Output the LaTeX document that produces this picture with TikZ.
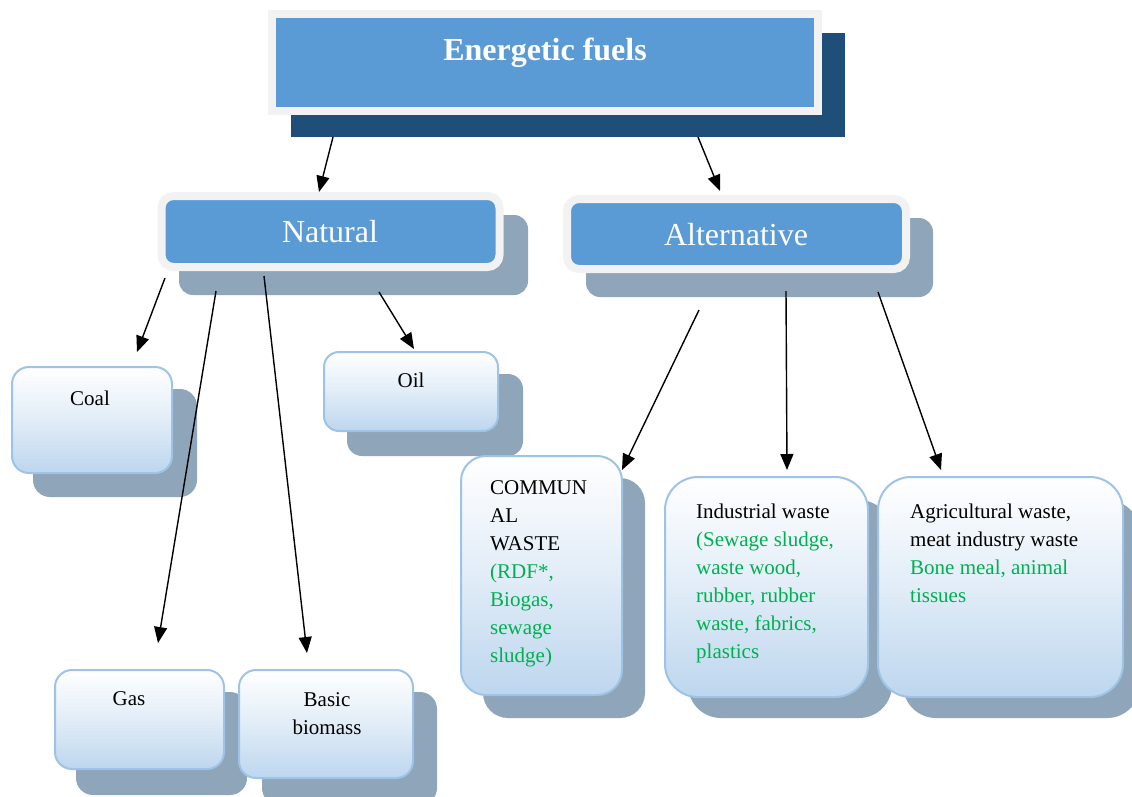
\documentclass[tikz,border=0pt]{standalone}
\usepackage{fontspec}
\setmainfont{Liberation Serif}
\usetikzlibrary{arrows.meta}
\definecolor{hdrblue}{HTML}{5B9BD5}
\definecolor{hdrrim}{HTML}{F2F2F2}
\definecolor{darkshadow}{HTML}{1F4E79}
\definecolor{greyshadow}{HTML}{8EA5BA}
\definecolor{lightrim}{HTML}{9DC3E6}
\definecolor{boxbot}{HTML}{BDD6EE}
\definecolor{greentext}{HTML}{00B050}
\tikzset{
  hdrbox/.style={draw=hdrrim, fill=hdrblue, line width=8pt, inner sep=0pt},
  leafbox/.style={draw=lightrim, line width=2pt, rounded corners=#1, top color=white, bottom color=boxbot, middle color=white!55!boxbot, inner sep=0pt},
  shadowfill/.style={fill=greyshadow, rounded corners=#1},
  hdrtext/.style={text=white, font=\fontsize{32}{36}\selectfont, anchor=base, inner sep=0pt},
  smalltext/.style={font=\fontsize{21}{28}\selectfont, anchor=base, inner sep=0pt},
  blocktext/.style={font=\fontsize{21}{28}\selectfont, anchor=north west, inner sep=0pt, align=left},
  conn/.style={line width=1.4pt, -{Triangle[length=16pt,width=13pt]}}
}
\begin{document}
\begin{tikzpicture}[x=1pt,y=-1pt]
\useasboundingbox (0,0) rectangle (1132,796);
\fill[white] (0,0) rectangle (1132,796);

% top header
\fill[darkshadow] (291,33) rectangle (845,137);
\node[hdrbox, minimum width=546pt, minimum height=97pt] (top) at (545,62.5) {};
\node[hdrtext, font=\fontsize{32}{36}\selectfont\bfseries] (toptext) at (545,60) {Energetic fuels};

% Natural
\fill[shadowfill=14pt] (179,215) rectangle (528,295);
\node[hdrbox, rounded corners=12pt, minimum width=338pt, minimum height=71pt] (natural) at (330.5,231.5) {};
\node[hdrtext] (naturaltext) at (330,242) {Natural};

% Alternative
\fill[shadowfill=14pt] (586,218) rectangle (933,297);
\node[hdrbox, rounded corners=12pt, minimum width=339pt, minimum height=70pt] (alternative) at (736.5,234) {};
\node[hdrtext] (alttext) at (736,245) {Alternative};

% Coal
\fill[shadowfill=17pt] (33,389) rectangle (197,497);
\node[leafbox=17pt, minimum width=160pt, minimum height=106pt] (coal) at (92,420) {};
\node[smalltext] (coaltext) at (90,405) {Coal};

% Oil
\fill[shadowfill=15pt] (347,374) rectangle (523,456);
\node[leafbox=15pt, minimum width=174pt, minimum height=79pt] (oil) at (411,391.5) {};
\node[smalltext] (oiltext) at (411,387) {Oil};

% Gas
\fill[shadowfill=17pt] (76,692) rectangle (247,795);
\node[leafbox=17pt, minimum width=169pt, minimum height=99pt] (gas) at (139.5,719.5) {};
\node[smalltext] (gastext) at (129,705) {Gas};

% Basic biomass
\fill[shadowfill=17pt] (262,692) rectangle (437,805);
\node[leafbox=17pt, minimum width=174pt, minimum height=108pt] (biomass) at (326,724) {};
\node[smalltext] (biomasstext1) at (327,706) {Basic};
\node[smalltext] (biomasstext2) at (327,734) {biomass};

% Communal waste
\fill[shadowfill=25pt] (483,478) rectangle (645,718);
\node[leafbox=25pt, minimum width=161pt, minimum height=239pt] (communal) at (541.5,575.5) {};
\node[blocktext] (communaltext) at (490,480.5) {COMMUN\\AL\\WASTE\\\textcolor{greentext}{(RDF*,}\\\textcolor{greentext}{Biogas,}\\\textcolor{greentext}{sewage}\\\textcolor{greentext}{sludge)}};

% Industrial waste
\fill[shadowfill=33pt] (688,500) rectangle (892,718);
\node[leafbox=33pt, minimum width=203pt, minimum height=220pt] (industrial) at (766.5,587) {};
\node[blocktext] (industrialtext) at (696,503.5) {Industrial waste\\\textcolor{greentext}{(Sewage sludge,}\\\textcolor{greentext}{waste wood,}\\\textcolor{greentext}{rubber, rubber}\\\textcolor{greentext}{waste, fabrics,}\\\textcolor{greentext}{plastics}};

% Agricultural waste
\fill[shadowfill=33pt] (903,500) rectangle (1140,718);
\node[leafbox=33pt, minimum width=245pt, minimum height=220pt] (agri) at (1000.5,587) {};
\node[blocktext] (agritext) at (910,503.5) {Agricultural waste,\\meat industry waste\\\textcolor{greentext}{Bone meal, animal}\\\textcolor{greentext}{tissues}};

% connector end points
\coordinate (t1) at (333,137);  \coordinate (n0) at (319,192);
\coordinate (t2) at (698,137);  \coordinate (a0) at (720,191);
\coordinate (n1) at (165,278);  \coordinate (coalin) at (137,352);
\coordinate (n2) at (216,291);  \coordinate (gasin) at (158,643);
\coordinate (n3) at (264,276);  \coordinate (bioin) at (307,653);
\coordinate (n4) at (379,292);  \coordinate (oilin) at (414,349);
\coordinate (a1) at (699,310);  \coordinate (comin) at (622,470);
\coordinate (a2) at (786,291);  \coordinate (indin) at (787,470);
\coordinate (a3) at (878,292);  \coordinate (agrin) at (941,470);

\draw[conn] (t1) -- (n0);
\draw[conn] (t2) -- (a0);
\draw[conn] (n1) -- (coalin);
\draw[conn] (n2) -- (gasin);
\draw[conn] (n3) -- (bioin);
\draw[conn] (n4) -- (oilin);
\draw[conn] (a1) -- (comin);
\draw[conn] (a2) -- (indin);
\draw[conn] (a3) -- (agrin);
\end{tikzpicture}
\end{document}
